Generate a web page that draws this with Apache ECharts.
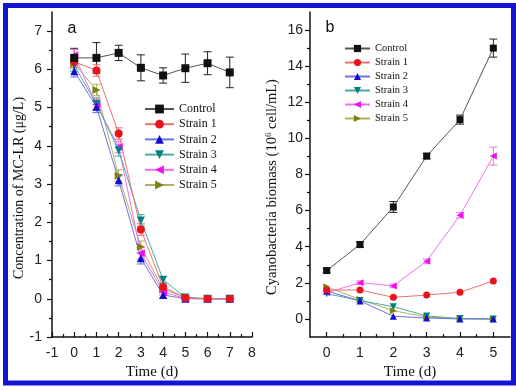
<!DOCTYPE html>
<html>
<head>
<meta charset="utf-8">
<script src="https://cdn.jsdelivr.net/npm/echarts@6/dist/echarts.min.js"></script>
<style>
html,body{margin:0;padding:0;background:#fff;}
#c{width:516px;height:391px;}
</style>
</head>
<body>
<div id="c"></div>
<script>
// ---------- Data: panel a (MC-LR concentration, µg/L) ----------
const seriesNames = ['Control', 'Strain 1', 'Strain 2', 'Strain 3', 'Strain 4', 'Strain 5'];
const daysA = [0, 1, 2, 3, 4, 5, 6, 7];
const controlA = [6.30, 6.30, 6.43, 6.04, 5.84, 6.03, 6.16, 5.92];
const controlAErr = [0.25, 0.40, 0.20, 0.34, 0.20, 0.37, 0.30, 0.40];
const strain1A = [6.20, 5.97, 4.32, 1.81, 0.31, 0.02, 0.00, 0.00];
const strain2A = [5.95, 5.02, 3.10, 1.06, 0.10, 0.00, 0.00, 0.00];
const strain3A = [6.10, 5.10, 3.88, 2.05, 0.50, 0.03, 0.00, 0.00];
const strain4A = [6.37, 5.08, 3.97, 1.19, 0.18, 0.01, 0.00, 0.00];
const strain5A = [6.16, 5.46, 3.22, 1.36, 0.25, 0.05, 0.00, 0.00];
const strainAErr = [0.15, 0.15, 0.15, 0.15, 0.08, 0.02, 0.00, 0.00];

// ---------- Data: panel b (cyanobacteria biomass, 10^6 cell/mL) ----------
const daysB = [0, 1, 2, 3, 4, 5];
const controlB = [2.68, 4.12, 6.20, 9.02, 11.04, 15.00];
const controlBErr = [0.10, 0.15, 0.30, 0.15, 0.25, 0.50];
const strain1B = [1.60, 1.60, 1.20, 1.32, 1.48, 2.10];
const strain2B = [1.55, 1.00, 0.15, 0.05, 0.00, 0.00];
const strain3B = [1.40, 1.02, 0.68, 0.17, 0.02, 0.00];
const strain4B = [1.45, 2.01, 1.83, 3.20, 5.74, 9.02];
const strain4BErr = [0.10, 0.10, 0.10, 0.12, 0.15, 0.50];
const strain5B = [1.78, 1.08, 0.46, 0.10, 0.02, 0.00];

// ---------- Axis ticks ----------
const yTicksA = [-1, 0, 1, 2, 3, 4, 5, 6, 7];
const yMinorA = [-0.5, 0.5, 1.5, 2.5, 3.5, 4.5, 5.5, 6.5];
const xTicksA = [-1, 0, 1, 2, 3, 4, 5, 6, 7, 8];
const xMinorA = [-0.5, 0.5, 1.5, 2.5, 3.5, 4.5, 5.5, 6.5, 7.5];
const yTicksB = [0, 2, 4, 6, 8, 10, 12, 14, 16];
const yMinorB = [1, 3, 5, 7, 9, 11, 13, 15];
const xTicksB = [0, 1, 2, 3, 4, 5];
const xMinorB = [0.5, 1.5, 2.5, 3.5, 4.5];

// ---------- Styling ----------
const colors = ['#111111', '#e8141c', '#1010cc', '#008080', '#ee11ee', '#808010'];
const lineColors = ['#555555', '#f07070', '#7070e0', '#50a8a8', '#f070f0', '#b0b060'];
const symbols = [
  'rect',
  'circle',
  'triangle',
  'path://M0,0L10,0L5,9Z',
  'path://M9,0L9,10L0,5Z',
  'path://M0,0L0,10L9,5Z'
];
const sans = '"Liberation Sans", Arial, sans-serif';
const serif = '"Liberation Serif", "Times New Roman", serif';

function mainAxis(grid, pos, min, max, ticks, inside, margin, name, nameGap) {
  return {
    type: 'value', gridIndex: grid, position: pos, min: min, max: max,
    name: name || '', nameLocation: 'middle', nameGap: nameGap || 0,
    nameTextStyle: { fontFamily: serif, fontSize: 15, color: '#111' },
    axisLine: { show: true, onZero: false, lineStyle: { color: '#111', width: 1.5 } },
    axisTick: { show: true, inside: inside, length: 5, customValues: ticks, lineStyle: { color: '#111', width: 1.2 } },
    axisLabel: { show: true, customValues: ticks, margin: margin, fontFamily: sans, fontSize: 14, color: '#222' },
    splitLine: { show: false }
  };
}
function minorAxis(grid, pos, min, max, ticks, inside) {
  return {
    type: 'value', gridIndex: grid, position: pos, offset: 0, min: min, max: max,
    axisLine: { show: false, onZero: false },
    axisTick: { show: true, inside: inside, length: 3, customValues: ticks, lineStyle: { color: '#111', width: 1.2 } },
    axisLabel: { show: false },
    splitLine: { show: false }
  };
}

function lineSeries(name, idx, xs, ys, axis, size) {
  return {
    type: 'line', name: name, xAxisIndex: axis, yAxisIndex: axis,
    data: xs.map((x, i) => [x, ys[i]]),
    symbol: symbols[idx], symbolSize: size, showSymbol: true,
    itemStyle: { color: colors[idx] },
    lineStyle: { color: lineColors[idx], width: 1 },
    z: 3, animation: false
  };
}
function errSeries(xs, ys, errs, axis, color) {
  return {
    type: 'custom', xAxisIndex: axis, yAxisIndex: axis, silent: true, z: 2, animation: false,
    encode: { x: 0, y: [1, 2] },
    data: xs.map((x, i) => [x, ys[i] - errs[i], ys[i] + errs[i]]),
    renderItem: function (params, api) {
      const x = api.value(0);
      const lo = api.coord([x, api.value(1)]);
      const hi = api.coord([x, api.value(2)]);
      const w = 4;
      const st = { stroke: color, lineWidth: 1 };
      return {
        type: 'group', children: [
          { type: 'line', shape: { x1: lo[0], y1: lo[1], x2: hi[0], y2: hi[1] }, style: st },
          { type: 'line', shape: { x1: lo[0] - w, y1: lo[1], x2: lo[0] + w, y2: lo[1] }, style: st },
          { type: 'line', shape: { x1: hi[0] - w, y1: hi[1], x2: hi[0] + w, y2: hi[1] }, style: st }
        ]
      };
    }
  };
}

const seriesA = [controlA, strain1A, strain2A, strain3A, strain4A, strain5A];
const seriesB = [controlB, strain1B, strain2B, strain3B, strain4B, strain5B];

const series = [];
series.push(errSeries(daysA, controlA, controlAErr, 0, '#222'));
for (let k = 1; k < 6; k++) series.push(errSeries(daysA, seriesA[k], strainAErr, 0, lineColors[k]));
series.push(errSeries(daysB, controlB, controlBErr, 2, '#222'));
series.push(errSeries(daysB, strain4B, strain4BErr, 2, lineColors[4]));
for (let k = 5; k >= 0; k--) series.push(lineSeries(seriesNames[k], k, daysA, seriesA[k], 0, 8));
for (let k = 5; k >= 0; k--) series.push(lineSeries(seriesNames[k], k, daysB, seriesB[k], 2, 7));

const option = {
  backgroundColor: '#ffffff',
  animation: false,
  grid: [
    { left: 52, top: 12, width: 200, height: 325 },
    { left: 310, top: 12, width: 200, height: 325 }
  ],
  xAxis: [
    mainAxis(0, 'bottom', -1, 8, xTicksA, true, 9, 'Time (d)', 28),
    minorAxis(0, 'bottom', -1, 8, xMinorA, true),
    mainAxis(1, 'bottom', -0.5, 5.5, xTicksB, true, 9, 'Time (d)', 23),
    minorAxis(1, 'bottom', -0.5, 5.5, xMinorB, true)
  ],
  yAxis: [
    mainAxis(0, 'left', -1, 7.5, yTicksA, false, 10),
    minorAxis(0, 'left', -1, 7.5, yMinorA, false),
    mainAxis(1, 'left', -1, 17, yTicksB, false, 7),
    minorAxis(1, 'left', -1, 17, yMinorB, false)
  ],
  legend: [
    {
      orient: 'vertical', left: 139, top: 98,
      data: seriesNames, itemWidth: 29, itemHeight: 11, itemGap: 3.2,
      textStyle: { fontFamily: serif, fontSize: 12, color: '#111' },
      selectedMode: false
    },
    {
      orient: 'vertical', left: 339, top: 38,
      data: seriesNames, itemWidth: 25, itemHeight: 9, itemGap: 3,
      textStyle: { fontFamily: serif, fontSize: 10.5, color: '#111' },
      selectedMode: false
    }
  ],
  graphic: [
    { type: 'rect', shape: { x: 5.5, y: 5.5, width: 508, height: 377.5 }, style: { fill: 'none', stroke: '#1414d2', lineWidth: 5 }, silent: true, z: 100 },
    { type: 'text', x: 72, y: 29, style: { text: 'a', fontFamily: sans, fontSize: 16, fill: '#111', align: 'center', verticalAlign: 'middle' } },
    { type: 'text', x: 330, y: 28, style: { text: 'b', fontFamily: sans, fontSize: 16, fill: '#111', align: 'center', verticalAlign: 'middle' } },
    { type: 'text', x: 19, y: 188, rotation: Math.PI / 2,
      style: { text: 'Concentration of MC-LR (\u03bcg/L)', fontFamily: serif, fontSize: 14, fill: '#111', align: 'center', verticalAlign: 'middle' } },
    { type: 'text', x: 272, y: 187, rotation: Math.PI / 2,
      style: {
        text: '{n|Cyanobacteria biomass (10}{s|6}{n| cell/mL)}',
        align: 'center', verticalAlign: 'middle',
        rich: {
          n: { fontFamily: serif, fontSize: 14.5, fill: '#111', lineHeight: 16 },
          s: { fontFamily: serif, fontSize: 9, fill: '#111', verticalAlign: 'top', lineHeight: 16 }
        }
      } }
  ],
  series: series
};

const chart = echarts.init(document.getElementById('c'), null, { renderer: 'canvas' });
chart.setOption(option);
</script>
</body>
</html>
